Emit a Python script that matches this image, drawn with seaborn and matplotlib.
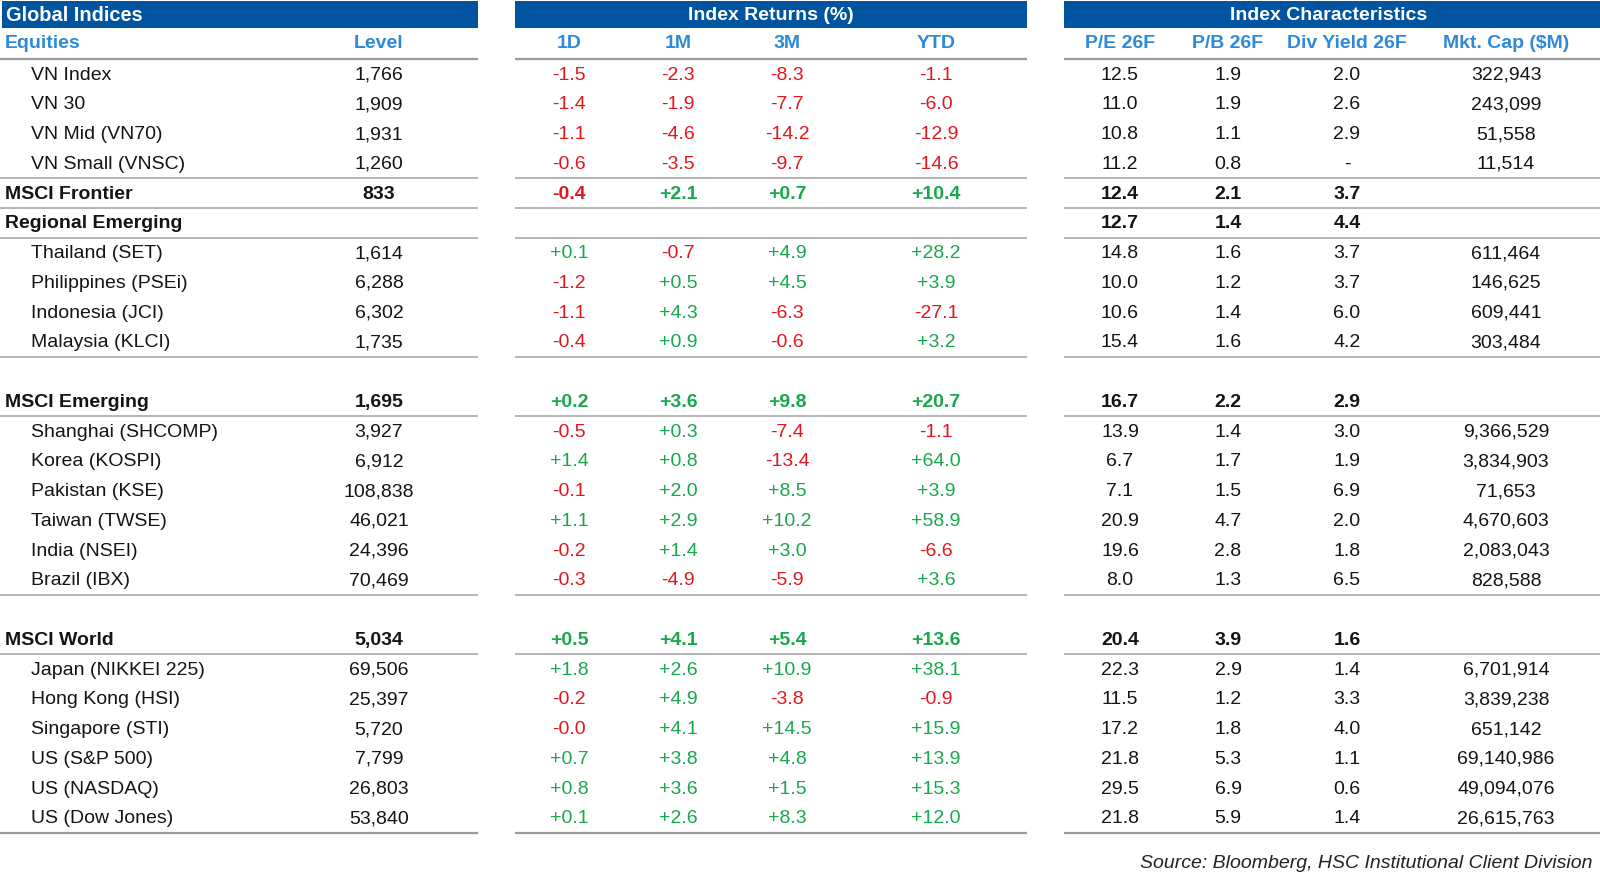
import math
import matplotlib
matplotlib.use("Agg")
import matplotlib.pyplot as plt
from matplotlib.patches import Rectangle
import numpy as np
import seaborn as sns

names = [
    "VN Index", "VN 30", "VN Mid (VN70)", "VN Small (VNSC)",
    "MSCI Frontier", "Regional Emerging",
    "Thailand (SET)", "Philippines (PSEi)", "Indonesia (JCI)", "Malaysia (KLCI)",
    "",
    "MSCI Emerging",
    "Shanghai (SHCOMP)", "Korea (KOSPI)", "Pakistan (KSE)", "Taiwan (TWSE)",
    "India (NSEI)", "Brazil (IBX)",
    "",
    "MSCI World",
    "Japan (NIKKEI 225)", "Hong Kong (HSI)", "Singapore (STI)", "US (S&P 500)",
    "US (NASDAQ)", "US (Dow Jones)",
]
group_rows = ["MSCI Frontier", "Regional Emerging", "MSCI Emerging", "MSCI World"]

level = [1766, 1909, 1931, 1260, 833, None, 1614, 6288, 6302, 1735, None,
         1695, 3927, 6912, 108838, 46021, 24396, 70469, None,
         5034, 69506, 25397, 5720, 7799, 26803, 53840]

ret_1d = [-1.5, -1.4, -1.1, -0.6, -0.4, None, 0.1, -1.2, -1.1, -0.4, None,
          0.2, -0.5, 1.4, -0.1, 1.1, -0.2, -0.3, None,
          0.5, 1.8, -0.2, -0.0, 0.7, 0.8, 0.1]
ret_1m = [-2.3, -1.9, -4.6, -3.5, 2.1, None, -0.7, 0.5, 4.3, 0.9, None,
          3.6, 0.3, 0.8, 2.0, 2.9, 1.4, -4.9, None,
          4.1, 2.6, 4.9, 4.1, 3.8, 3.6, 2.6]
ret_3m = [-8.3, -7.7, -14.2, -9.7, 0.7, None, 4.9, 4.5, -6.3, -0.6, None,
          9.8, -7.4, -13.4, 8.5, 10.2, 3.0, -5.9, None,
          5.4, 10.9, -3.8, 14.5, 4.8, 1.5, 8.3]
ret_ytd = [-1.1, -6.0, -12.9, -14.6, 10.4, None, 28.2, 3.9, -27.1, 3.2, None,
           20.7, -1.1, 64.0, 3.9, 58.9, -6.6, 3.6, None,
           13.6, 38.1, -0.9, 15.9, 13.9, 15.3, 12.0]

pe_26f = [12.5, 11.0, 10.8, 11.2, 12.4, 12.7, 14.8, 10.0, 10.6, 15.4, None,
          16.7, 13.9, 6.7, 7.1, 20.9, 19.6, 8.0, None,
          20.4, 22.3, 11.5, 17.2, 21.8, 29.5, 21.8]
pb_26f = [1.9, 1.9, 1.1, 0.8, 2.1, 1.4, 1.6, 1.2, 1.4, 1.6, None,
          2.2, 1.4, 1.7, 1.5, 4.7, 2.8, 1.3, None,
          3.9, 2.9, 1.2, 1.8, 5.3, 6.9, 5.9]
# nan -> shown as "-"
div_26f = [2.0, 2.6, 2.9, np.nan, 3.7, 4.4, 3.7, 3.7, 6.0, 4.2, None,
           2.9, 3.0, 1.9, 6.9, 2.0, 1.8, 6.5, None,
           1.6, 1.4, 3.3, 4.0, 1.1, 0.6, 1.4]
mkt_cap = [322943, 243099, 51558, 11514, None, None, 611464, 146625, 609441, 303484, None,
           None, 9366529, 3834903, 71653, 4670603, 2083043, 828588, None,
           None, 6701914, 3839238, 651142, 69140986, 49094076, 26615763]

block_titles = ["Global Indices", "Index Returns (%)", "Index Characteristics"]
col_headers = ["Level", "1D", "1M", "3M", "YTD", "P/E 26F", "P/B 26F", "Div Yield 26F", "Mkt. Cap ($M)"]
source = "Source: Bloomberg, HSC Institutional Client Division"

# ---- style ----
sns.set_theme(style="white")
plt.rcParams["font.family"] = ["Liberation Sans", "DejaVu Sans"]

NAVY = "#0054a0"
SUB = "#2e8ad8"
RED = "#e3161d"
GREEN = "#16a84a"
INK = "#141414"
RULE = "#a8a8a8"
FS = 14

fig = plt.figure(figsize=(16, 8.95), dpi=100)
ax = fig.add_axes([0, 0, 1, 1])
ax.set_xlim(0, 1600)
ax.set_ylim(895, 0)
ax.axis("off")

# layout (pixel space)
blocks = [(2, 478), (515, 1027), (1064, 1600)]
col_x = [379, 569, 678, 787, 936, 1120, 1228, 1347, 1506]
row0, pitch = 75, 29.76
ys = [row0 + i * pitch for i in range(len(names))]

# title bars
for (x0, x1), title in zip(blocks, block_titles):
    ax.add_patch(Rectangle((x0, 2), x1 - x0, 27, color=NAVY, lw=0))
for i, title in enumerate(block_titles):
    x0, x1 = blocks[i]
    if i == 0:
        ax.text(x0 + 4, 15.5, title, color="white", fontsize=FS + 0.4, weight="bold", va="center", ha="left")
    else:
        right = 1594 if i == 2 else x1
        ax.text((x0 + right) / 2, 15.5, title, color="white", fontsize=FS, weight="bold", va="center", ha="center")

# column headers
ax.text(5, 43, "Equities", color=SUB, fontsize=FS, weight="bold", va="center")
for x, h in zip(col_x, col_headers):
    ax.text(x, 43, h, color=SUB, fontsize=FS, weight="bold", va="center", ha="center")


def hline(y, lw=1.2, color=RULE):
    for x0, x1 in blocks:
        ax.plot([x0 if x0 > 2 else 0, x1], [y, y], color=color, lw=lw, solid_capstyle="butt")


hline(row0 - pitch / 2, lw=1.6, color="#9a9a9a")
for r in [3, 4, 5, 9, 11, 17, 19]:
    hline(ys[r] + pitch / 2)
hline(ys[-1] + pitch / 2, lw=1.6, color="#9a9a9a")


def sign_color(v):
    return RED if math.copysign(1, v) < 0 else GREEN


for i, name in enumerate(names):
    y = ys[i]
    bold = name in group_rows
    wt = "bold" if bold else "normal"
    if name:
        ax.text(5 if bold else 31, y, name, color=INK, fontsize=FS, weight=wt, va="center", ha="left")
    if level[i] is not None:
        ax.text(col_x[0], y, f"{level[i]:,}", color=INK, fontsize=FS, weight=wt, va="center", ha="center")
    for j, series in enumerate([ret_1d, ret_1m, ret_3m, ret_ytd]):
        v = series[i]
        if v is None:
            continue
        ax.text(col_x[1 + j], y, f"{v:+.1f}", color=sign_color(v), fontsize=FS, weight=wt,
                va="center", ha="center")
    for j, series in enumerate([pe_26f, pb_26f, div_26f]):
        v = series[i]
        if v is None:
            continue
        s = "-" if np.isnan(v) else f"{v:.1f}"
        ax.text(col_x[5 + j], y, s, color=INK, fontsize=FS, weight=wt, va="center", ha="center")
    if mkt_cap[i] is not None:
        ax.text(col_x[8], y, f"{mkt_cap[i]:,}", color=INK, fontsize=FS, weight=wt, va="center", ha="center")

ax.text(1592, 864, source, color="#222222", fontsize=FS, style="italic", va="center", ha="right")

fig.savefig("out.png", dpi=100, facecolor="white")
